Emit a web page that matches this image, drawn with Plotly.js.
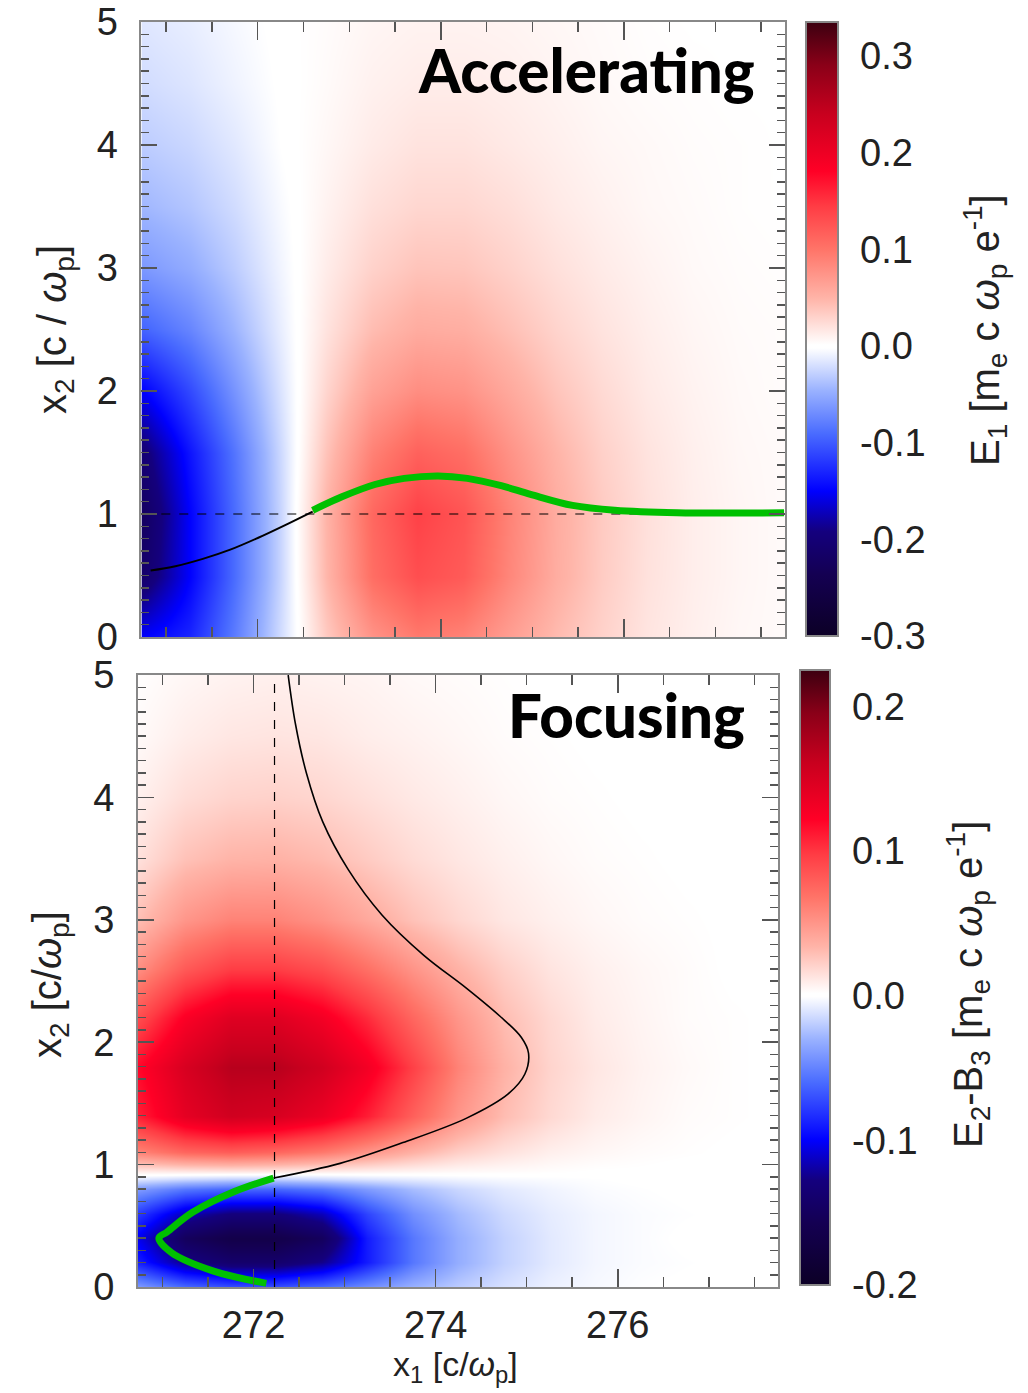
<!DOCTYPE html>
<html><head><meta charset="utf-8">
<script src="https://cdn.plot.ly/plotly-3.0.1.min.js"></script>
<style>html,body{margin:0;padding:0;background:#fff}</style>
</head><body><div id="plot" style="width:1028px;height:1393px"></div>
<script>
// ---------- data ----------
const x1Grid = [270.75, 271.25, 271.75, 272.25, 272.75, 273.25, 273.75, 274.25, 274.75, 275.25, 275.75, 276.25, 276.75, 277.25, 277.75];

// Top panel: E1 (accelerating field)
const accX2 = [0, 0.5, 1.0, 1.5, 2.0, 2.5, 3.0, 3.5, 4.0, 4.5, 5.0];
const accE1 = [
  [-0.15, -0.13, -0.08, -0.022, 0.035, 0.075, 0.095, 0.088, 0.066, 0.045, 0.03, 0.018, 0.011, 0.006, 0.004],
  [-0.21, -0.15, -0.09, -0.026, 0.048, 0.105, 0.13, 0.12, 0.085, 0.055, 0.034, 0.02, 0.012, 0.007, 0.004],
  [-0.22, -0.15, -0.09, -0.026, 0.05, 0.11, 0.14, 0.125, 0.088, 0.056, 0.035, 0.021, 0.012, 0.007, 0.004],
  [-0.20, -0.14, -0.085, -0.024, 0.04, 0.09, 0.115, 0.105, 0.076, 0.05, 0.031, 0.019, 0.011, 0.006, 0.004],
  [-0.15, -0.11, -0.065, -0.018, 0.028, 0.064, 0.08, 0.076, 0.058, 0.039, 0.025, 0.015, 0.009, 0.005, 0.003],
  [-0.095, -0.075, -0.045, -0.012, 0.019, 0.044, 0.056, 0.054, 0.042, 0.029, 0.019, 0.012, 0.007, 0.004, 0.003],
  [-0.062, -0.05, -0.031, -0.008, 0.013, 0.03, 0.039, 0.038, 0.03, 0.021, 0.014, 0.009, 0.005, 0.003, 0.002],
  [-0.043, -0.035, -0.022, -0.005, 0.009, 0.021, 0.027, 0.027, 0.022, 0.015, 0.01, 0.006, 0.004, 0.002, 0.001],
  [-0.031, -0.025, -0.015, -0.002, 0.006, 0.014, 0.019, 0.019, 0.015, 0.011, 0.007, 0.005, 0.003, 0.002, 0.001],
  [-0.022, -0.017, -0.009, -0.001, 0.004, 0.01, 0.013, 0.013, 0.011, 0.008, 0.005, 0.003, 0.002, 0.001, 0.001],
  [-0.016, -0.012, -0.006, 0.0, 0.003, 0.007, 0.009, 0.009, 0.008, 0.006, 0.004, 0.002, 0.001, 0.001, 0.001]
];

// Bottom panel: E2-B3 (focusing field)
const focX2 = [0, 0.2, 0.4, 0.6, 0.8, 0.88, 0.95, 1.1, 1.4, 1.8, 2.2, 2.6, 3.0, 3.5, 4.0, 4.5, 5.0];
const focE2B3 = [
  [-0.04, -0.06, -0.07, -0.07, -0.06, -0.045, -0.03, -0.02, -0.012, -0.006, -0.003, -0.001, 0, 0, 0],
  [-0.09, -0.125, -0.14, -0.14, -0.125, -0.09, -0.055, -0.032, -0.018, -0.009, -0.004, -0.002, -0.001, 0, 0],
  [-0.105, -0.15, -0.165, -0.165, -0.15, -0.09, -0.055, -0.032, -0.018, -0.009, -0.004, -0.002, 0, 0, 0],
  [-0.08, -0.115, -0.13, -0.13, -0.115, -0.075, -0.045, -0.027, -0.015, -0.008, -0.004, -0.002, -0.001, 0, 0],
  [-0.04, -0.055, -0.062, -0.062, -0.055, -0.04, -0.026, -0.016, -0.009, -0.005, -0.002, -0.001, 0, 0, 0],
  [-0.01, -0.015, -0.018, -0.018, -0.015, -0.011, -0.008, -0.005, -0.003, -0.002, -0.001, 0, 0, 0, 0],
  [0.01, 0.012, 0.013, 0.012, 0.01, 0.008, 0.006, 0.004, 0.003, 0.002, 0.001, 0.001, 0, 0, 0],
  [0.06, 0.075, 0.08, 0.075, 0.065, 0.05, 0.035, 0.022, 0.014, 0.008, 0.005, 0.003, 0.002, 0.001, 0],
  [0.11, 0.14, 0.155, 0.15, 0.135, 0.11, 0.078, 0.05, 0.03, 0.018, 0.01, 0.006, 0.003, 0.002, 0.001],
  [0.12, 0.15, 0.17, 0.17, 0.155, 0.13, 0.095, 0.06, 0.035, 0.02, 0.012, 0.007, 0.004, 0.002, 0.001],
  [0.09, 0.125, 0.145, 0.145, 0.13, 0.105, 0.075, 0.05, 0.03, 0.018, 0.01, 0.006, 0.003, 0.002, 0.001],
  [0.055, 0.082, 0.097, 0.097, 0.088, 0.07, 0.051, 0.035, 0.022, 0.013, 0.008, 0.005, 0.003, 0.001, 0.001],
  [0.03, 0.05, 0.06, 0.06, 0.052, 0.04, 0.028, 0.019, 0.012, 0.008, 0.005, 0.003, 0.002, 0.001, 0.001],
  [0.015, 0.028, 0.034, 0.035, 0.031, 0.024, 0.017, 0.012, 0.008, 0.005, 0.003, 0.002, 0.001, 0.001, 0],
  [0.008, 0.016, 0.02, 0.021, 0.019, 0.015, 0.011, 0.008, 0.005, 0.003, 0.002, 0.001, 0.001, 0, 0],
  [0.004, 0.009, 0.012, 0.013, 0.012, 0.009, 0.007, 0.005, 0.003, 0.002, 0.001, 0.001, 0, 0, 0],
  [0.002, 0.005, 0.007, 0.008, 0.007, 0.006, 0.004, 0.003, 0.002, 0.001, 0.001, 0, 0, 0, 0]
];

// Trajectories
const accBlackX = [270.83, 271.1, 271.4, 271.7, 272.0, 272.3, 272.6];
const accBlackY = [0.54, 0.575, 0.635, 0.71, 0.805, 0.91, 1.02];
const accGreenX = [272.6, 272.92, 273.28, 273.6, 273.97, 274.29, 274.66, 274.98, 275.44, 275.9, 276.58, 277.75];
const accGreenY = [1.03, 1.14, 1.24, 1.29, 1.31, 1.29, 1.23, 1.16, 1.07, 1.03, 1.01, 1.01];
const accRefX = [270.75, 277.75];
const accRefY = [1, 1];

const focBlackX = [272.38, 272.46, 272.58, 272.76, 273.04, 273.41, 273.87, 274.34, 274.71, 274.94, 275.02, 274.98, 274.80, 274.34, 273.64, 272.95, 272.22];
const focBlackY = [5.0, 4.6, 4.2, 3.8, 3.41, 3.04, 2.71, 2.44, 2.21, 2.04, 1.91, 1.74, 1.58, 1.38, 1.18, 1.01, 0.89];
const focGreenX = [272.22, 271.79, 271.33, 271.05, 270.96, 271.10, 271.56, 272.14];
const focGreenY = [0.89, 0.78, 0.61, 0.45, 0.40, 0.28, 0.13, 0.03];
const focRefX = [272.23, 272.23];
const focRefY = [0, 5];

const accCbVals = [-0.3, -0.2, -0.1, 0.0, 0.1, 0.2, 0.3];
const accCbText = ['-0.3', '-0.2', '-0.1', '0.0', '0.1', '0.2', '0.3'];
const focCbVals = [-0.2, -0.1, 0.0, 0.1, 0.2];
const focCbText = ['-0.2', '-0.1', '0.0', '0.1', '0.2'];

// ---------- styling ----------
const cscale = [
  [0.0, '#0c0026'], [0.10, '#140052'], [0.17, '#14007e'], [0.236, '#0000ff'],
  [0.33, '#4a6cff'], [0.40, '#9ab2ff'], [0.469, '#ffffff'], [0.474, '#ffffff'], [0.55, '#ffb4a8'],
  [0.63, '#ff7468'], [0.70, '#ff3c44'], [0.757, '#ff0026'], [0.85, '#c8001e'],
  [0.93, '#8a0018'], [1.0, '#3c0010']
];
const FONT = 'Liberation Sans, Arial, sans-serif';
const tickFont = {family: FONT, size: 38, color: '#222'};

function cbar(x, y, len, thick, vals, text) {
  return {x: x, xanchor: 'left', xref: 'paper', y: y, yanchor: 'bottom', yref: 'paper',
    len: len, lenmode: 'fraction', thickness: thick, thicknessmode: 'pixels',
    xpad: 0, ypad: 0, outlinewidth: 2, outlinecolor: '#888',
    tickvals: vals, ticktext: text, ticks: 'outside', ticklen: 14, tickcolor: 'rgba(0,0,0,0)',
    tickfont: tickFont, ticklabeloverflow: 'allow'};
}

const traces = [
  {type: 'heatmap', x: x1Grid, y: accX2, z: accE1, xaxis: 'x2', yaxis: 'y2',
   colorscale: cscale, zmin: -0.3, zmax: 0.335, zsmooth: 'best',
   colorbar: cbar(0.784, 0.5434, 0.4408, 32, accCbVals, accCbText)},
  {type: 'scatter', mode: 'lines', x: accRefX, y: accRefY, xaxis: 'x2', yaxis: 'y2',
   line: {color: '#000', width: 1.2, dash: 'dash'}},
  {type: 'scatter', mode: 'lines', x: accBlackX, y: accBlackY, xaxis: 'x2', yaxis: 'y2',
   line: {color: '#000', width: 2, shape: 'spline'}},
  {type: 'scatter', mode: 'lines', x: accGreenX, y: accGreenY, xaxis: 'x2', yaxis: 'y2',
   line: {color: '#00c000', width: 7, shape: 'spline'}},

  {type: 'heatmap', x: x1Grid, y: focX2, z: focE2B3, xaxis: 'x', yaxis: 'y',
   colorscale: cscale, zmin: -0.2, zmax: 0.225, zsmooth: 'best',
   colorbar: cbar(0.778, 0.0775, 0.4415, 30, focCbVals, focCbText)},
  {type: 'scatter', mode: 'lines', x: focRefX, y: focRefY, xaxis: 'x', yaxis: 'y',
   line: {color: '#000', width: 1.2, dash: 'dash'}},
  {type: 'scatter', mode: 'lines', x: focBlackX, y: focBlackY, xaxis: 'x', yaxis: 'y',
   line: {color: '#000', width: 1.6, shape: 'spline'}},
  {type: 'scatter', mode: 'lines', x: focGreenX, y: focGreenY, xaxis: 'x', yaxis: 'y',
   line: {color: '#00c000', width: 7, shape: 'spline'}}
];

function xax(domain, anchor, showLabels) {
  return {domain: domain, anchor: anchor, range: [270.73, 277.76], autorange: false,
    tick0: 272, dtick: 2, ticks: 'inside', ticklen: 18, tickwidth: 1.5, tickcolor: '#555',
    minor: {tick0: 272, dtick: 0.5, ticks: 'inside', ticklen: 10, tickwidth: 1.5, tickcolor: '#555', showgrid: false},
    showline: true, linecolor: '#888', linewidth: 2, mirror: 'allticks',
    showgrid: false, zeroline: false, showticklabels: showLabels,
    tickfont: tickFont, ticklabelstandoff: 3, ticklabeloverflow: 'allow'};
}
function yax(domain, anchor) {
  return {domain: domain, anchor: anchor, range: [0, 5], autorange: false,
    tick0: 0, dtick: 1, ticks: 'inside', ticklen: 16, tickwidth: 1.5, tickcolor: '#555',
    minor: {dtick: 0.1, ticks: 'inside', ticklen: 8, tickwidth: 1.5, tickcolor: '#555', showgrid: false},
    showline: true, linecolor: '#888', linewidth: 2, mirror: 'allticks',
    showgrid: false, zeroline: false, tickfont: tickFont, ticklabelstandoff: 14,
    ticklabeloverflow: 'allow'};
}

const titleFont = {family: FONT, size: 34, color: '#222'};
const vtitleFont = {family: FONT, size: 40, color: '#222'};
const bigFont = {family: 'Lato, Open Sans, sans-serif', size: 60, color: '#000', weight: 900};
const layout = {
  width: 1028, height: 1393,
  margin: {l: 0, r: 0, t: 0, b: 0},
  paper_bgcolor: '#fff', plot_bgcolor: '#fff',
  showlegend: false,
  xaxis: xax([0.1342, 0.7568], 'y', true),
  yaxis: yax([0.0761, 0.5154], 'x'),
  xaxis2: xax([0.1376, 0.7636], 'y2', false),
  yaxis2: yax([0.5427, 0.9842], 'x2'),
  annotations: [
    {text: 'Accelerating', xref: 'paper', yref: 'paper', x: 757/1028, y: 1 - 70/1393,
     xanchor: 'right', yanchor: 'middle', showarrow: false, font: bigFont},
    {text: 'Focusing', xref: 'paper', yref: 'paper', x: 747/1028, y: 1 - 715/1393,
     xanchor: 'right', yanchor: 'middle', showarrow: false, font: bigFont},
    {text: 'x<sub>2</sub> [c / <i>ω</i><sub>p</sub>]', xref: 'paper', yref: 'paper',
     x: 55/1028, y: 1 - 330/1393, xanchor: 'center', yanchor: 'middle', textangle: -90,
     showarrow: false, font: vtitleFont},
    {text: 'x<sub>2</sub> [c/<i>ω</i><sub>p</sub>]', xref: 'paper', yref: 'paper',
     x: 50/1028, y: 1 - 985/1393, xanchor: 'center', yanchor: 'middle', textangle: -90,
     showarrow: false, font: vtitleFont},
    {text: 'x<sub>1</sub> [c/<i>ω</i><sub>p</sub>]', xref: 'paper', yref: 'paper',
     x: 455/1028, y: 1 - 1366/1393, xanchor: 'center', yanchor: 'middle',
     showarrow: false, font: titleFont},
    {text: 'E<sub>1</sub> [m<sub>e</sub> c <i>ω</i><sub>p</sub> e<sup>-1</sup>]', xref: 'paper', yref: 'paper',
     x: 985/1028, y: 1 - 330/1393, xanchor: 'center', yanchor: 'middle', textangle: -90,
     showarrow: false, font: vtitleFont},
    {text: 'E<sub>2</sub>-B<sub>3</sub> [m<sub>e</sub> c <i>ω</i><sub>p</sub> e<sup>-1</sup>]', xref: 'paper', yref: 'paper',
     x: 968/1028, y: 1 - 985/1393, xanchor: 'center', yanchor: 'middle', textangle: -90,
     showarrow: false, font: vtitleFont}
  ]
};

Plotly.newPlot('plot', traces, layout, {staticPlot: true, displayModeBar: false});
</script>
</body></html>
